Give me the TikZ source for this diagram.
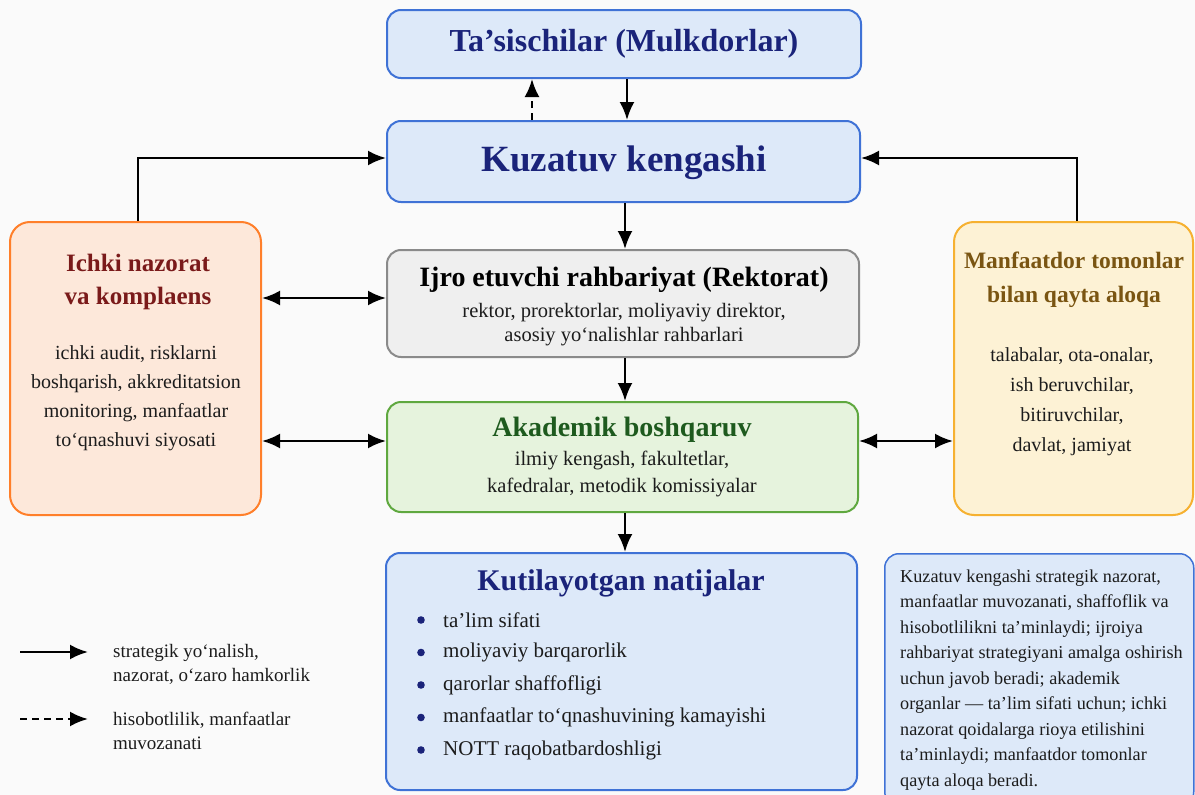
\documentclass[tikz,border=0pt]{standalone}
\usepackage{fontspec}
\setmainfont{Liberation Serif}
\usetikzlibrary{arrows.meta,calc}
\definecolor{bg}{HTML}{FAFAFA}
\definecolor{bluefill}{HTML}{DDE9F9}
\definecolor{blueline}{HTML}{3F72D6}
\definecolor{navy}{HTML}{1A237A}
\definecolor{grayfill}{HTML}{EFEFEF}
\definecolor{grayline}{HTML}{8A8A8A}
\definecolor{greenfill}{HTML}{E6F3DD}
\definecolor{greenline}{HTML}{5FA83F}
\definecolor{greentitle}{HTML}{1E5A1E}
\definecolor{orangefill}{HTML}{FDE8DA}
\definecolor{orangeline}{HTML}{FF7F2A}
\definecolor{redtitle}{HTML}{7A1A1A}
\definecolor{yellowfill}{HTML}{FDF2D5}
\definecolor{yellowline}{HTML}{F6B131}
\definecolor{browntitle}{HTML}{7A5512}
\definecolor{txt}{HTML}{1C1C1C}
\newcommand{\fs}[2]{\fontsize{#1}{#2}\selectfont}
\tikzset{
  box/.style={draw, line width=2pt, rounded corners=14pt, inner sep=0pt},
  bluebox/.style={box, draw=blueline, fill=bluefill},
  graybox/.style={box, draw=grayline, fill=grayfill},
  greenbox/.style={box, draw=greenline, fill=greenfill},
  orangebox/.style={box, draw=orangeline, fill=orangefill, rounded corners=20pt},
  yellowbox/.style={box, draw=yellowline, fill=yellowfill, rounded corners=20pt},
  lbl/.style={inner sep=0pt, text=txt, align=center},
  conn/.style={line width=2.6pt, -{Latex[length=18pt,width=15pt]}},
  bconn/.style={line width=2.6pt, {Latex[length=18pt,width=15pt]}-{Latex[length=18pt,width=15pt]}},
  dconn/.style={conn, dash pattern=on 7pt off 5pt},
}
\begin{document}
\begin{tikzpicture}[x=1pt,y=-1pt]
\useasboundingbox (0,0) rectangle (1195,795);
\fill[bg] (0,0) rectangle (1195,795);

% boxes
\node[bluebox, minimum width=474pt, minimum height=68pt] (tas) at (624,44) {};
\node[bluebox, minimum width=473pt, minimum height=81pt] (kuz) at (623.5,161.5) {};
\node[graybox, minimum width=472pt, minimum height=107pt] (ijro) at (623,303.5) {};
\node[greenbox, minimum width=471pt, minimum height=110pt] (akad) at (622.5,457) {};
\node[bluebox, minimum width=471pt, minimum height=237pt] (kut) at (621.5,671.5) {};
\node[orangebox, minimum width=251pt, minimum height=293pt] (ichki) at (135.5,368.5) {};
\node[yellowbox, minimum width=239pt, minimum height=293pt] (manf) at (1073.5,368.5) {};
\begin{scope}
\clip (0,0) rectangle (1195,795);
\node[bluebox, line width=1.5pt, minimum width=309pt, minimum height=252pt, anchor=north west] (note) at (884,553) {};
\end{scope}

% texts
\node[lbl, text=navy, font=\bfseries\fs{32}{36}] (tasT) at (tas.center) {Ta’sischilar (Mulkdorlar)};
\node[lbl, text=navy, font=\bfseries\fs{37}{42}] (kuzT) at (624,163) {Kuzatuv kengashi};
\node[lbl, text=black, font=\bfseries\fs{28}{32}] (ijroT) at (624,280) {Ijro etuvchi rahbariyat (Rektorat)};
\node[lbl, font=\fs{20.5}{24}] (ijroB) at (624,325) {rektor, prorektorlar, moliyaviy direktor,\\asosiy yo‘nalishlar rahbarlari};
\node[lbl, text=greentitle, font=\bfseries\fs{28}{32}] (akadT) at (622,430) {Akademik boshqaruv};
\node[lbl, font=\fs{20.5}{27}] (akadB) at (622,474) {ilmiy kengash, fakultetlar,\\kafedralar, metodik komissiyalar};
\node[lbl, text=navy, font=\bfseries\fs{30}{34}] (kutT) at (621,583) {Kutilayotgan natijalar};
\foreach \t [count=\i] in {ta’lim sifati, moliyaviy barqarorlik, qarorlar shaffofligi, manfaatlar to‘qnashuvining kamayishi, NOTT raqobatbardoshligi}{
  \node[lbl, anchor=west, font=\fs{21}{24}] (kutB\i) at (443,{620+32.5*(\i-1)}) {\t};
  \fill[navy] (421,{620+32.5*(\i-1)}) circle (3.8pt);
}
\node[lbl, text=redtitle, font=\bfseries\fs{25}{33}] (ichkiT) at (138,281.5) {Ichki nazorat\\va komplaens};
\node[lbl, font=\fs{20}{29}] (ichkiB) at (136,398.5) {ichki audit, risklarni\\boshqarish, akkreditatsion\\monitoring, manfaatlar\\to‘qnashuvi siyosati};
\node[lbl, text=browntitle, font=\bfseries\fs{23.5}{34}] (manfT) at (1074,280) {Manfaatdor tomonlar\\bilan qayta aloqa};
\node[lbl, font=\fs{20}{30}] (manfB) at (1072,402) {talabalar, ota-onalar,\\ish beruvchilar,\\bitiruvchilar,\\davlat, jamiyat};
\node[lbl, anchor=west, align=left, font=\fs{18.2}{25.5}] (noteT) at (900,680) {Kuzatuv kengashi strategik nazorat,\\manfaatlar muvozanati, shaffoflik va\\hisobotlilikni ta’minlaydi; ijroiya\\rahbariyat strategiyani amalga oshirish\\uchun javob beradi; akademik\\organlar — ta’lim sifati uchun; ichki\\nazorat qoidalarga rioya etilishini\\ta’minlaydi; manfaatdor tomonlar\\qayta aloqa beradi.};

% legend
\coordinate (l1a) at (20,652); \coordinate (l1b) at (88,652);
\coordinate (l2a) at (20,719); \coordinate (l2b) at (88,719);
\draw[conn] (l1a) -- (l1b);
\draw[dconn] (l2a) -- (l2b);
\node[lbl, anchor=west, align=left, font=\fs{19}{24}] (leg1) at (113,664) {strategik yo‘nalish,\\nazorat, o‘zaro hamkorlik};
\node[lbl, anchor=west, align=left, font=\fs{19}{24}] (leg2) at (113,731) {hisobotlilik, manfaatlar\\muvozanati};

% connectors
\coordinate (xd) at (532,0);
\coordinate (xs) at (627,0);
\coordinate (xc) at (625,0);
\coordinate (xl) at (138,0);
\coordinate (xr) at (1077,0);
\coordinate (yk) at (0,158);
\coordinate (ya) at (0,298);
\coordinate (yb) at (0,441);
\draw[dconn] (kuz.north -| xd) -- (tas.south -| xd);
\draw[conn] (tas.south -| xs) -- (kuz.north -| xs);
\draw[conn] (kuz.south -| xc) -- (ijro.north -| xc);
\draw[conn] (ijro.south -| xc) -- (akad.north -| xc);
\draw[conn] (akad.south -| xc) -- (kut.north -| xc);
\draw[conn] (ichki.north -| xl) -- (xl |- yk) -- (kuz.west |- yk);
\draw[conn] (manf.north -| xr) -- (xr |- yk) -- (kuz.east |- yk);
\draw[bconn] (ichki.east |- ya) -- (ijro.west |- ya);
\draw[bconn] (ichki.east |- yb) -- (akad.west |- yb);
\draw[bconn] (akad.east |- yb) -- (manf.west |- yb);
\end{tikzpicture}
\end{document}
